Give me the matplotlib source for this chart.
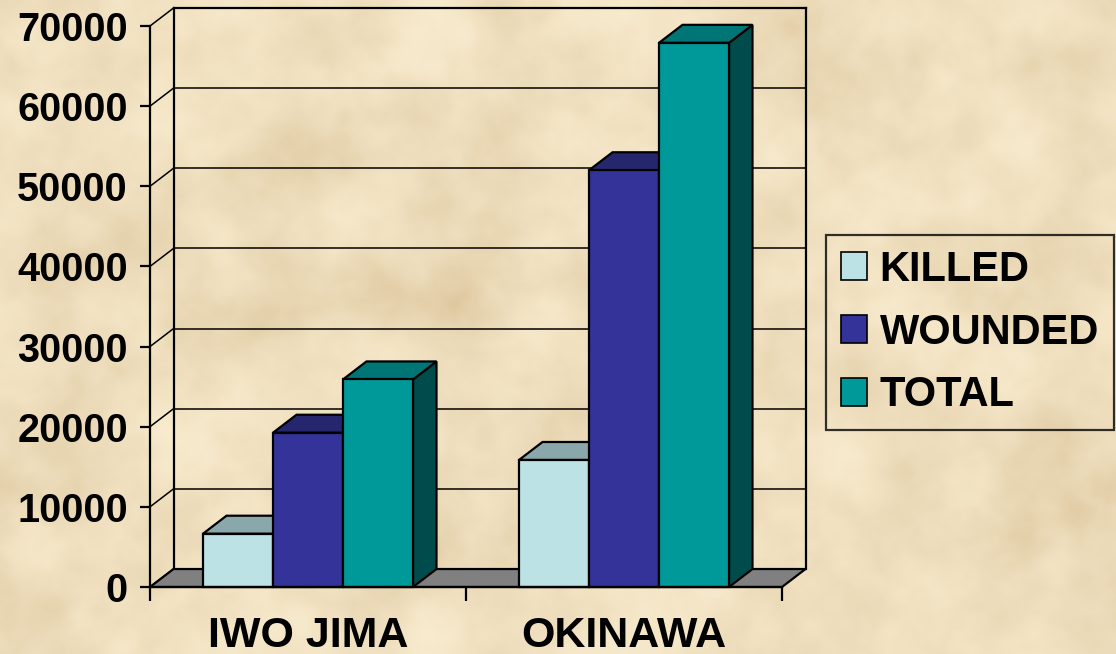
import matplotlib.pyplot as plt
import numpy as np
from matplotlib.patches import Polygon, Patch

plt.rcParams['font.family'] = ['Liberation Sans', 'DejaVu Sans']
plt.rcParams['font.weight'] = 'bold'

battles = ["IWO JIMA", "OKINAWA"]
series = ["KILLED", "WOUNDED", "TOTAL"]
killed = [6650, 15850]
wounded = [19250, 52000]
total = [25900, 67900]
yticks = [0, 10000, 20000, 30000, 40000, 50000, 60000, 70000]

# face, top, side colours per series
face_cols = ["#bce2e6", "#333399", "#009999"]
top_cols = ["#8aa8ac", "#26266f", "#007575"]
side_cols = ["#7d9ea1", "#1c1c55", "#004c4c"]

W, H = 1116, 654
fig = plt.figure(figsize=(W / 100, H / 100), dpi=100)


def smooth_noise(rng, shape, sigma):
    n = rng.random(shape)
    r = int(3 * sigma) + 1
    k = np.exp(-0.5 * (np.arange(-r, r + 1) / sigma) ** 2)
    k /= k.sum()
    n = np.apply_along_axis(lambda v: np.convolve(np.pad(v, r, mode='wrap'), k, 'valid'), 0, n)
    n = np.apply_along_axis(lambda v: np.convolve(np.pad(v, r, mode='wrap'), k, 'valid'), 1, n)
    n -= n.min()
    return n / n.max()


# parchment background
rng = np.random.default_rng(3)
shape = (164, 279)
mix = 0.6 * smooth_noise(rng, shape, 6) + 0.3 * smooth_noise(rng, shape, 2) \
    + 0.1 * smooth_noise(rng, shape, 0.7)
mix = (mix - mix.min()) / (mix.max() - mix.min())
light = np.array([248, 235, 206]) / 255
dark = np.array([222, 200, 160]) / 255
tex = light + (dark - light) * (mix[..., None] ** 1.3)
bg = fig.add_axes([0, 0, 1, 1], zorder=-10)
bg.imshow(tex, extent=[0, 1, 0, 1], aspect='auto', interpolation='bilinear')
bg.set_axis_off()

ax = fig.add_axes([150 / W, 1 - 587 / H, 632 / W, 561 / H])
ax.set_xlim(0, 2)
ax.set_ylim(0, 70000)
ax.patch.set_alpha(0)

DX = 23.5 / 316         # depth offset, x data units
DY = 18 / 80.2 * 10000  # depth offset, y data units
lw = 1.6

# back wall and grid
for v in yticks:
    ax.plot([DX, 2 + DX], [v + DY, v + DY], color='black', lw=1.1, clip_on=False, zorder=1)
    ax.plot([0, DX], [v, v + DY], color='black', lw=1.1, clip_on=False, zorder=1)
ax.plot([DX, DX], [DY, 70000 + DY], color='black', lw=lw, clip_on=False, zorder=1)
ax.plot([2 + DX, 2 + DX], [DY, 70000 + DY], color='black', lw=lw, clip_on=False, zorder=1)
ax.plot([DX, 2 + DX], [70000 + DY, 70000 + DY], color='black', lw=lw, clip_on=False, zorder=1)

# floor
ax.add_patch(Polygon([(0, 0), (2, 0), (2 + DX, DY), (DX, DY)], closed=True,
                     facecolor='#808080', edgecolor='black', lw=lw, clip_on=False, zorder=2))

bw = 0.2215
values = [killed, wounded, total]
for g in range(len(battles)):
    start = g + 0.5 - 1.5 * bw
    for s in range(len(series)):
        x0 = start + s * bw
        x1 = x0 + bw
        h = values[s][g]
        kw = dict(closed=True, edgecolor='black', lw=lw, clip_on=False, zorder=3 + s)
        ax.add_patch(Polygon([(x1, 0), (x1 + DX, DY), (x1 + DX, h + DY), (x1, h)],
                             facecolor=side_cols[s], **kw))
        ax.add_patch(Polygon([(x0, h), (x1, h), (x1 + DX, h + DY), (x0 + DX, h + DY)],
                             facecolor=top_cols[s], **kw))
        ax.add_patch(Polygon([(x0, 0), (x1, 0), (x1, h), (x0, h)],
                             facecolor=face_cols[s], **kw))

for side in ['top', 'right']:
    ax.spines[side].set_visible(False)
for side in ['left', 'bottom']:
    ax.spines[side].set_linewidth(lw)
    ax.spines[side].set_zorder(8)

ax.set_yticks(yticks)
ax.set_yticklabels([str(v) for v in yticks], fontsize=28.5, fontweight='bold')
ax.tick_params(axis='y', length=7, width=lw, pad=9)
ax.set_xticks([0, 1, 2])
ax.set_xticklabels([])
ax.set_xticks([0.5, 1.5], minor=True)
ax.set_xticklabels(battles, minor=True, fontsize=31, fontweight='bold')
ax.tick_params(axis='x', which='major', length=10, width=lw)
ax.tick_params(axis='x', which='minor', length=0, pad=21)

handles = [Patch(facecolor=c, edgecolor='black', lw=1.2) for c in face_cols]
leg = fig.legend(handles, series, loc='upper left',
                 bbox_to_anchor=(826 / W, 1 - 235 / H),
                 handlelength=0.64, handleheight=0.64, handletextpad=0.3,
                 labelspacing=0.55, borderpad=0.35, borderaxespad=0,
                 frameon=True, fancybox=False, prop={'weight': 'bold', 'size': 30})
leg.get_frame().set_facecolor('none')
leg.get_frame().set_edgecolor('black')
leg.get_frame().set_linewidth(1.6)

fig.savefig('out.png', dpi=100)
